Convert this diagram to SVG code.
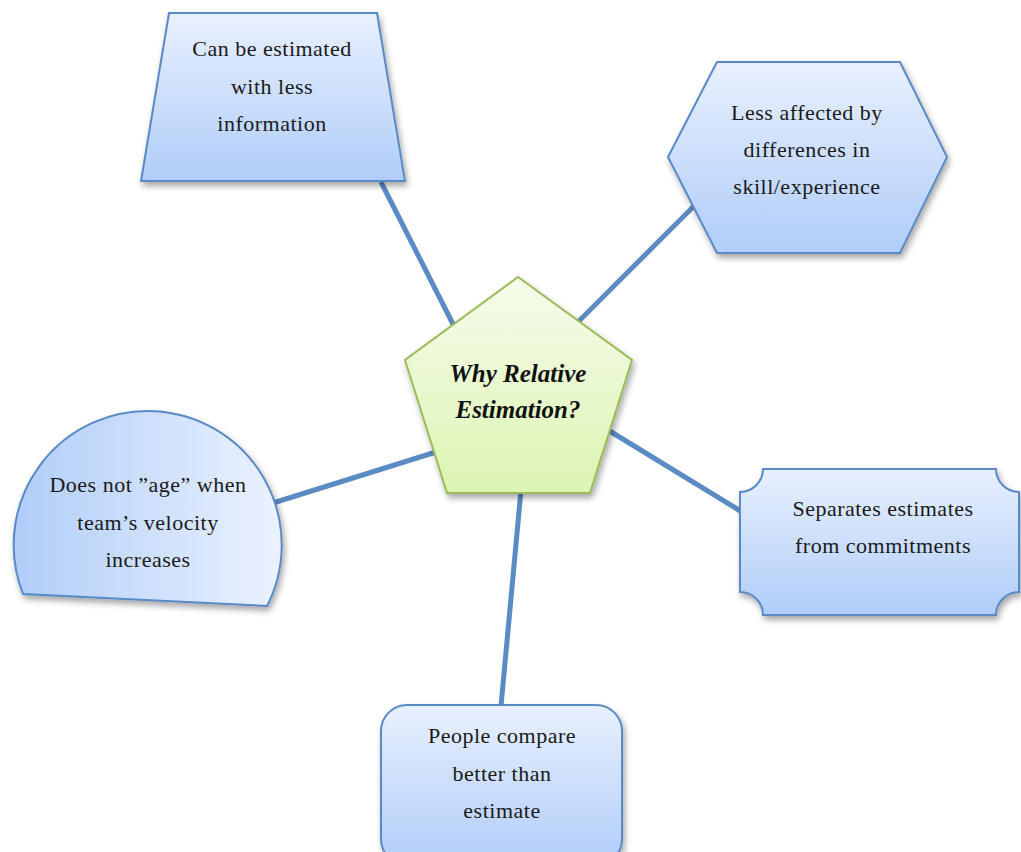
<svg xmlns="http://www.w3.org/2000/svg" width="1021" height="852" viewBox="0 0 1021 852">
  <style>
    .node { stroke: #5a8ac6; stroke-width: 2; fill: url(#blueV); filter: url(#shadow); }
    .hub { stroke: #9bbb59; stroke-width: 2; fill: url(#greenV); filter: url(#shadow); }
    .label { font-family: "Liberation Serif", "DejaVu Serif", serif; font-size: 22px; letter-spacing: 0.5px; fill: #1a1a1a; text-anchor: middle; }
    .title { font-family: "Liberation Serif", "DejaVu Serif", serif; font-style: italic; font-weight: bold; font-size: 25px; fill: #111; text-anchor: middle; }
    .link { stroke: #5b8bc4; stroke-width: 5; fill: none; }
  </style>
  <defs>
    <linearGradient id="blueV" x1="0" y1="0" x2="0" y2="1">
      <stop offset="0" stop-color="#e8f0fe"/>
      <stop offset="1" stop-color="#b0cdf9"/>
    </linearGradient>
    <linearGradient id="blueH" x1="0" y1="0" x2="1" y2="0">
      <stop offset="0" stop-color="#b0cdf8"/>
      <stop offset="1" stop-color="#ebf2ff"/>
    </linearGradient>
    <linearGradient id="greenV" x1="0" y1="0" x2="0" y2="1">
      <stop offset="0" stop-color="#f6fcec"/>
      <stop offset="1" stop-color="#dcf4b2"/>
    </linearGradient>
    <filter id="shadow" x="-10%" y="-10%" width="125%" height="130%">
      <feDropShadow dx="2" dy="4" stdDeviation="3" flood-color="#000" flood-opacity="0.35"/>
    </filter>
  </defs>

  <!-- spokes from the hub to each reason -->
  <g id="connectors">
    <line class="link" x1="381" y1="182" x2="455" y2="328"/>
    <line class="link" x1="694" y1="206" x2="576" y2="324"/>
    <line class="link" x1="273" y1="503" x2="436" y2="452"/>
    <line class="link" x1="608" y1="430" x2="742" y2="512"/>
    <line class="link" x1="521" y1="490" x2="501" y2="706"/>
  </g>

  <g id="hub">
    <polygon class="hub" points="518,277 632,360 590,493 447,493 405,360"/>
    <text class="title" x="518" y="382">Why Relative</text>
    <text class="title" x="518" y="418">Estimation?</text>
  </g>

  <g id="less-information">
    <polygon class="node" points="169,13 377,13 405,181 141,181"/>
    <text class="label" x="272" y="56">Can be estimated</text>
    <text class="label" x="272" y="94">with less</text>
    <text class="label" x="272" y="131">information</text>
  </g>

  <g id="skill-experience">
    <polygon class="node" points="717,62 900,62 947,157 900,253 717,253 668,157"/>
    <text class="label" x="807" y="120">Less affected by</text>
    <text class="label" x="807" y="157">differences in</text>
    <text class="label" x="807" y="194">skill/experience</text>
  </g>

  <g id="velocity">
    <path class="node" style="fill:url(#blueH)" d="M 23 594 A 134 134 0 1 1 267 606 Z"/>
    <text class="label" x="148" y="492">Does not ”age” when</text>
    <text class="label" x="148" y="530">team’s velocity</text>
    <text class="label" x="148" y="567">increases</text>
  </g>

  <g id="commitments">
    <path class="node" d="M 763 469 L 996 469 A 23 23 0 0 0 1019 492 L 1019 592 A 23 23 0 0 0 996 615 L 763 615 A 23 23 0 0 0 740 592 L 740 492 A 23 23 0 0 0 763 469 Z"/>
    <text class="label" x="883" y="516">Separates estimates</text>
    <text class="label" x="883" y="553">from commitments</text>
  </g>

  <g id="compare">
    <rect class="node" x="381" y="705" width="241" height="160" rx="26" ry="26"/>
    <text class="label" x="502" y="743">People compare</text>
    <text class="label" x="502" y="781">better than</text>
    <text class="label" x="502" y="818">estimate</text>
  </g>
</svg>
